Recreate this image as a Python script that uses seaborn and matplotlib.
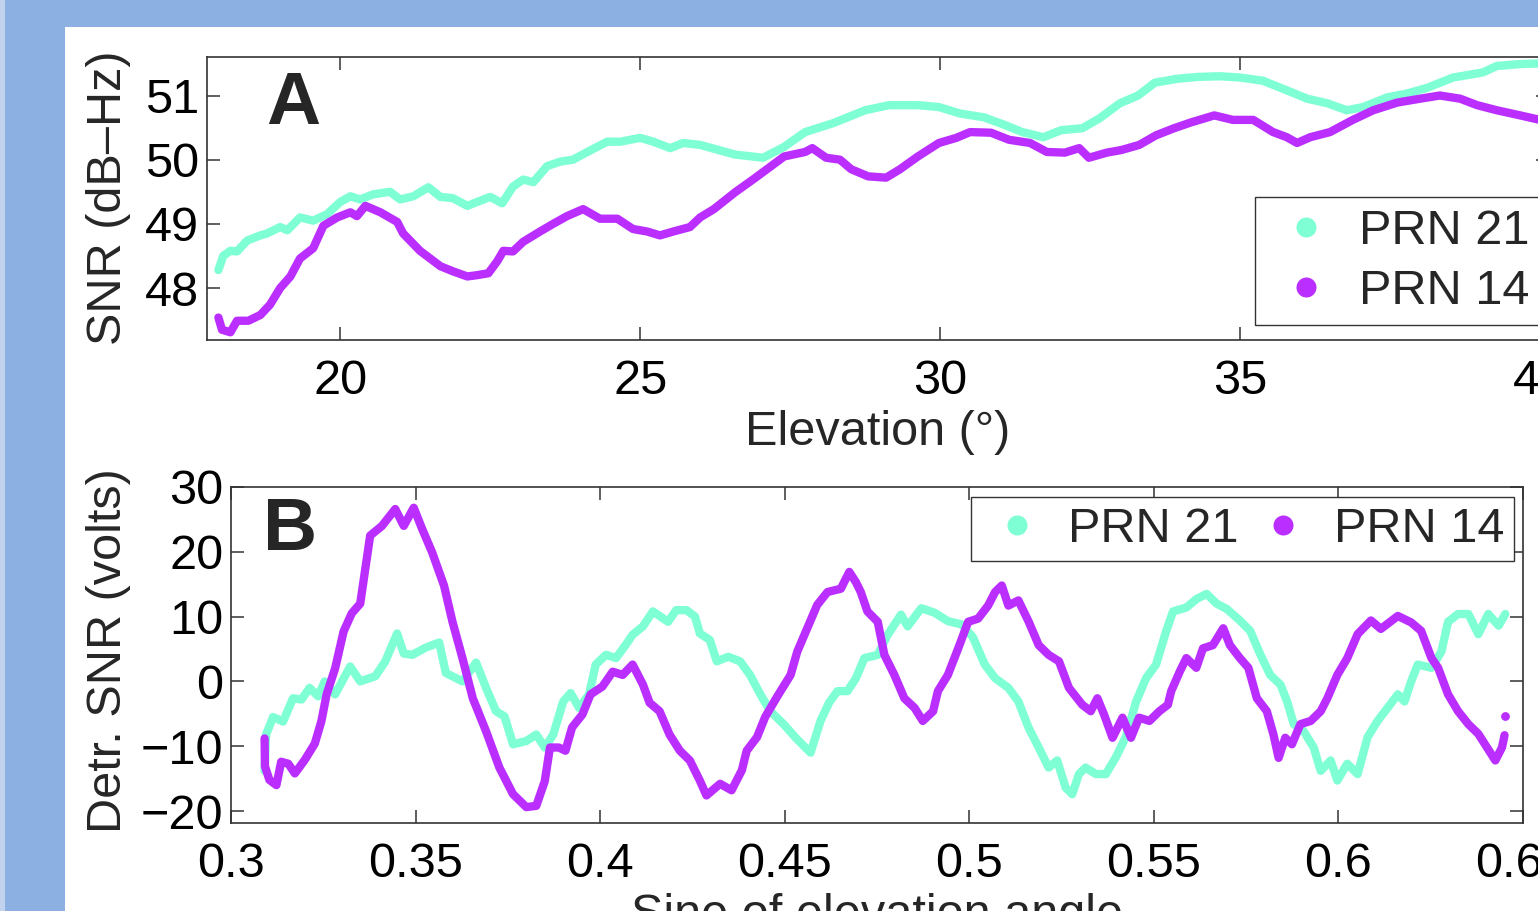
import matplotlib
matplotlib.use("Agg")
import matplotlib.pyplot as plt
from matplotlib.lines import Line2D
from matplotlib.patches import Rectangle
import seaborn as sns


# ==========================================
# DATA
# ==========================================

# Panel A: SNR vs elevation angle
elev_21 = [17.97, 18.05, 18.17, 18.28, 18.45, 18.67, 18.78, 19.0, 19.12, 19.33,
           19.55, 19.78, 20.0, 20.17, 20.33, 20.55, 20.83, 21.0, 21.22, 21.47,
           21.67, 21.88, 22.12, 22.28, 22.5, 22.7, 22.88, 23.05, 23.22, 23.45,
           23.67, 23.88, 24.12, 24.45, 24.67, 25.0, 25.22, 25.5, 25.72, 26.0,
           26.58, 27.05, 27.4, 27.75, 28.22, 28.75, 29.15, 29.63, 29.98, 30.33,
           30.73, 31.08, 31.37, 31.72, 32.02, 32.37, 32.65, 33.0, 33.3, 33.58,
           33.95, 34.3, 34.67, 35.0, 35.38, 35.78, 36.12, 36.45, 36.78, 37.05,
           37.45, 37.78, 38.12, 38.55, 39.05, 39.28, 39.67, 40.0, 40.3, 40.6]
snr_21 = [48.28, 48.5, 48.58, 48.57, 48.74, 48.82, 48.85, 48.95, 48.9, 49.1,
          49.05, 49.15, 49.34, 49.43, 49.38, 49.46, 49.5, 49.38, 49.43, 49.57,
          49.42, 49.4, 49.28, 49.34, 49.42, 49.32, 49.58, 49.69, 49.65, 49.9,
          49.97, 50.0, 50.12, 50.28, 50.28, 50.34, 50.28, 50.18, 50.26, 50.23,
          50.08, 50.03, 50.2, 50.43, 50.57, 50.77, 50.85, 50.85, 50.82, 50.72,
          50.66, 50.54, 50.43, 50.35, 50.46, 50.49, 50.64, 50.88, 51.0, 51.2,
          51.26, 51.29, 51.3, 51.28, 51.23, 51.08, 50.95, 50.88, 50.77, 50.82,
          50.97, 51.03, 51.12, 51.28, 51.36, 51.46, 51.49, 51.5, 51.53, 51.52]

elev_14 = [17.97, 18.03, 18.17, 18.28, 18.47, 18.67, 18.83, 19.0, 19.17, 19.33,
           19.55, 19.72, 19.95, 20.17, 20.28, 20.42, 20.67, 20.95, 21.05, 21.33,
           21.67, 21.88, 22.12, 22.28, 22.47, 22.62, 22.72, 22.88, 23.05, 23.33,
           23.55, 23.78, 24.05, 24.33, 24.62, 24.88, 25.12, 25.33, 25.55, 25.83,
           26.0, 26.23, 26.58, 26.88, 27.17, 27.4, 27.75, 27.87, 28.1, 28.33,
           28.52, 28.8, 29.1, 29.33, 29.63, 29.98, 30.27, 30.5, 30.85, 31.15,
           31.5, 31.78, 32.08, 32.32, 32.48, 32.78, 33.02, 33.32, 33.6, 33.9,
           34.18, 34.57, 34.88, 35.22, 35.55, 35.78, 35.95, 36.17, 36.5, 36.88,
           37.22, 37.62, 38.0, 38.33, 38.67, 38.95, 39.28, 39.67, 40.0, 40.17,
           40.3]
snr_14 = [47.54, 47.35, 47.31, 47.49, 47.49, 47.58, 47.74, 48.0, 48.18, 48.46,
          48.62, 48.97, 49.1, 49.18, 49.12, 49.28, 49.18, 49.03, 48.85, 48.58,
          48.34, 48.26, 48.18, 48.2, 48.23, 48.42, 48.58, 48.57, 48.72, 48.88,
          49.0, 49.12, 49.23, 49.08, 49.08, 48.92, 48.88, 48.82, 48.88, 48.95,
          49.1, 49.23, 49.49, 49.69, 49.89, 50.05, 50.12, 50.18, 50.03, 50.0,
          49.85, 49.74, 49.72, 49.85, 50.05, 50.26, 50.34, 50.43, 50.42, 50.31,
          50.26, 50.12, 50.11, 50.18, 50.03, 50.11, 50.15, 50.23, 50.38, 50.49,
          50.58, 50.69, 50.62, 50.62, 50.43, 50.35, 50.26, 50.35, 50.43, 50.62,
          50.77, 50.89, 50.95, 51.0, 50.95, 50.85, 50.77, 50.69, 50.62, 50.54,
          50.6]

# Panel B: detrended SNR vs sine of elevation
sin_21 = [0.3091, 0.3095, 0.3114, 0.3141, 0.3168, 0.3191, 0.3213, 0.3236, 0.3254, 0.3282,
          0.3323, 0.3350, 0.3391, 0.3418, 0.3450, 0.3468, 0.3491, 0.3527, 0.3564, 0.3582,
          0.3627, 0.3664, 0.3691, 0.3718, 0.3741, 0.3764, 0.3800, 0.3827, 0.3850, 0.3873,
          0.3900, 0.3920, 0.3943, 0.3970, 0.3988, 0.4016, 0.4043, 0.4070, 0.4088, 0.4116,
          0.4143, 0.4184, 0.4206, 0.4234, 0.4257, 0.4270, 0.4297, 0.4316, 0.4347, 0.4379,
          0.4406, 0.4434, 0.4461, 0.4497, 0.4533, 0.4570, 0.4597, 0.4620, 0.4643, 0.4670,
          0.4693, 0.4716, 0.4752, 0.4779, 0.4815, 0.4833, 0.4870, 0.4906, 0.4942, 0.4979,
          0.5010, 0.5042, 0.5070, 0.5106, 0.5133, 0.5161, 0.5188, 0.5215, 0.5238, 0.5261,
          0.5279, 0.5297, 0.5315, 0.5343, 0.5370, 0.5397, 0.5424, 0.5452, 0.5479, 0.5506,
          0.5533, 0.5552, 0.5588, 0.5615, 0.5643, 0.5670, 0.5697, 0.5733, 0.5761, 0.5788,
          0.5815, 0.5843, 0.5861, 0.5879, 0.5906, 0.5933, 0.5952, 0.5979, 0.5997, 0.6024,
          0.6052, 0.6079, 0.6106, 0.6133, 0.6161, 0.6179, 0.6197, 0.6215, 0.6252, 0.6279,
          0.6297, 0.6324, 0.6352, 0.6379, 0.6406, 0.6434, 0.6452]
det_21 = [-13.8, -8.2, -5.5, -6.2, -2.6, -2.8, -1.0, -2.3, 0.0, -2.0,
          2.3, 0.0, 0.8, 3.1, 7.4, 4.3, 4.1, 5.2, 6.0, 1.3,
          0.0, 2.9, -1.0, -4.6, -5.4, -9.7, -9.2, -8.2, -10.2, -8.2,
          -3.1, -1.8, -4.1, -2.0, 2.6, 4.1, 3.6, 5.7, 7.2, 8.5,
          10.8, 9.2, 11.0, 11.0, 10.0, 7.4, 6.4, 3.1, 3.8, 3.1,
          1.0, -2.0, -4.6, -6.6, -8.9, -11.0, -6.1, -3.3, -1.5, -1.5,
          0.5, 3.6, 4.1, 7.2, 10.3, 8.5, 11.3, 10.6, 9.3, 8.8,
          6.8, 2.6, 0.5, -1.0, -3.1, -7.2, -10.2, -13.3, -12.2, -16.4,
          -17.4, -14.3, -13.3, -14.3, -14.3, -11.7, -8.6, -3.1, 0.5, 2.6,
          7.7, 10.8, 11.4, 12.7, 13.5, 12.0, 11.2, 9.4, 7.8, 4.2,
          1.0, -0.5, -3.1, -6.6, -7.7, -10.2, -13.8, -12.2, -15.3, -12.7,
          -14.3, -8.6, -6.1, -4.1, -2.0, -3.1, 0.0, 2.6, 2.1, 4.6,
          9.2, 10.4, 10.4, 7.3, 10.4, 8.6, 10.4]

sin_14 = [0.3091, 0.3092, 0.3104, 0.3123, 0.3136, 0.3155, 0.3173, 0.3200, 0.3227, 0.3245,
          0.3259, 0.3282, 0.3305, 0.3327, 0.3350, 0.3364, 0.3377, 0.3409, 0.3445, 0.3468,
          0.3495, 0.3518, 0.3545, 0.3577, 0.3600, 0.3627, 0.3655, 0.3691, 0.3727, 0.3764,
          0.3800, 0.3827, 0.3850, 0.3864,
          0.3888, 0.3906, 0.3924, 0.3952, 0.3974, 0.4006, 0.4034, 0.4061, 0.4088, 0.4116,
          0.4134, 0.4161, 0.4188, 0.4216, 0.4243, 0.4270, 0.4288, 0.4325, 0.4356, 0.4384,
          0.4397, 0.4425, 0.4447, 0.4479, 0.4516, 0.4534, 0.4561, 0.4588, 0.4616, 0.4652,
          0.4675, 0.4693,
          0.4706, 0.4724, 0.4752, 0.4770, 0.4797, 0.4824, 0.4852, 0.4874, 0.4902, 0.4915,
          0.4942, 0.4970, 0.4997, 0.5024, 0.5051, 0.5070, 0.5088, 0.5106, 0.5133, 0.5161,
          0.5188, 0.5215, 0.5243, 0.5270, 0.5306, 0.5329, 0.5347, 0.5365, 0.5388, 0.5415,
          0.5438, 0.5460, 0.5488, 0.5515, 0.5538, 0.5547, 0.5570,
          0.5588, 0.5615, 0.5633, 0.5660, 0.5688, 0.5706, 0.5733, 0.5756, 0.5779, 0.5806,
          0.5824, 0.5838, 0.5856, 0.5874, 0.5897, 0.5925, 0.5952, 0.5970, 0.5997, 0.6024,
          0.6052, 0.6088, 0.6115, 0.6161, 0.6197, 0.6224, 0.6252, 0.6270, 0.6297, 0.6324,
          0.6352, 0.6379, 0.6397, 0.6425, 0.6443, 0.6450]
det_14 = [-8.8, -13.1, -15.2, -16.0, -12.4, -12.7, -14.2, -12.1, -9.6, -6.1,
          -2.0, 2.0, 7.7, 10.5, 12.0, 17.4, 22.5, 24.0, 26.6, 24.0,
          26.8, 23.5, 19.9, 14.8, 9.2, 3.6, -2.6, -7.7, -13.3, -17.4,
          -19.4, -19.2, -15.4, -10.2,
          -10.2, -10.7, -7.1, -5.1, -2.0, -0.8, 1.5, 1.0, 2.6, -0.5,
          -3.3, -4.6, -8.2, -10.7, -12.2, -15.3, -17.6, -15.8, -16.8, -13.7,
          -10.7, -8.6, -5.5, -2.4, 1.0, 4.6, 8.2, 11.8, 13.8, 14.3,
          16.9, 15.3,
          13.8, 10.8, 9.2, 4.1, 1.0, -2.6, -4.1, -6.1, -4.6, -1.5,
          1.0, 5.1, 9.2, 9.7, 11.7, 13.8, 14.8, 11.7, 12.5, 9.2,
          5.6, 4.1, 3.1, -1.0, -3.6, -4.6, -2.6, -5.1, -8.7, -5.6,
          -8.7, -5.6, -6.1, -4.6, -3.6, -1.5, 1.5,
          3.6, 2.1, 5.1, 5.6, 8.2, 5.6, 3.6, 2.1, -2.6, -4.6,
          -8.2, -11.8, -8.7, -9.7, -6.6, -6.1, -4.6, -2.6, 1.0, 3.6,
          7.3, 9.4, 8.1, 10.1, 9.1, 7.8, 3.6, 2.1, -2.0, -4.6,
          -6.6, -8.1, -9.7, -12.2, -10.2, -8.3]

# lone sample after the end of the PRN 14 trace
sin_14_tail = [0.6450]
det_14_tail = [-5.3]

series_labels = ["PRN 21", "PRN 14"]
a_xticks = [20, 25, 30, 35, 40]
a_yticks = [48, 49, 50, 51]
b_xticks = [0.3, 0.35, 0.4, 0.45, 0.5, 0.55, 0.6, 0.65]
b_xticklabels = ["0.3", "0.35", "0.4", "0.45", "0.5", "0.55", "0.6", "0.65"]
b_yticks = [-20, -10, 0, 10, 20, 30]


# ==========================================
# STYLE
# ==========================================

sns.set_style("ticks")
plt.rcParams["font.family"] = ["Liberation Sans", "DejaVu Sans"]

W, H = 1538, 911
c21 = "#7FFFD4"
c14 = "#BA2EFF"
edge = "#333333"
fs = 35


def fx(px):
    return px / W


def fy(py):
    return 1 - py / H


fig = plt.figure(figsize=(W / 100, H / 100), dpi=100)
fig.patch.set_facecolor("#8DB0E2")
fig.add_artist(Rectangle((0, 0), fx(5), 1, transform=fig.transFigure,
                         facecolor="#C3D3EF", edgecolor="none", zorder=0))
fig.add_artist(Rectangle((fx(65), 0), 1, fy(27), transform=fig.transFigure,
                         facecolor="white", edgecolor="none", zorder=0))


def style_axes(ax):
    for sp in ax.spines.values():
        sp.set_visible(True)
        sp.set_color(edge)
        sp.set_linewidth(1.2)
    ax.tick_params(direction="in", length=9.4, width=1.1, color=edge,
                   top=True, right=True, labelsize=fs, labelcolor="black")
    ax.tick_params(axis="x", pad=13.5)
    ax.tick_params(axis="y", pad=5.5)
    ax.set_facecolor("white")


def dot_handles():
    return [Line2D([], [], linestyle="none", marker="o", markersize=14.4,
                   markerfacecolor=c, markeredgecolor="none")
            for c in (c21, c14)]


line_kw = dict(linewidth=6, estimator=None, sort=False, legend=False,
               solid_capstyle="round", solid_joinstyle="round")


# ==========================================
# PANEL A
# ==========================================

ax_a = fig.add_axes([fx(207), fy(340), fx(1549 - 207), (340 - 57) / H])
sns.lineplot(x=elev_21, y=snr_21, ax=ax_a, color=c21, **line_kw)
sns.lineplot(x=elev_14, y=snr_14, ax=ax_a, color=c14, **line_kw)

ax_a.set_xlim(17.78, 40.15)
ax_a.set_ylim(47.19, 51.6)
ax_a.set_xticks(a_xticks)
ax_a.set_yticks(a_yticks)
style_axes(ax_a)

ax_a.set_xlabel("Elevation (°)", fontsize=fs, va="baseline")
ax_a.xaxis.set_label_coords(fx(878), fy(445), transform=fig.transFigure)
ax_a.set_ylabel("SNR (dB–Hz)", fontsize=fs, va="baseline")
ax_a.yaxis.set_label_coords(fx(121), fy(198), transform=fig.transFigure)

ax_a.legend(dot_handles(), series_labels, loc="upper left",
            bbox_to_anchor=(fx(1255), fy(197)), bbox_transform=fig.transFigure,
            fontsize=fs, frameon=True, fancybox=False, framealpha=1,
            edgecolor=edge, borderpad=0.24, handlelength=1.6,
            handletextpad=0.3, labelspacing=0.31, borderaxespad=0)

fig.text(fx(293), fy(105), "A", fontsize=54, fontweight="bold",
         ha="center", va="center")


# ==========================================
# PANEL B
# ==========================================

ax_b = fig.add_axes([fx(231), fy(823), fx(1523 - 231), (823 - 487) / H])
sns.lineplot(x=sin_21, y=det_21, ax=ax_b, color=c21, **line_kw)
sns.lineplot(x=sin_14, y=det_14, ax=ax_b, color=c14, **line_kw)
sns.scatterplot(x=sin_14_tail, y=det_14_tail, ax=ax_b, color=c14,
                s=40, linewidth=0, legend=False)

ax_b.set_xlim(0.3, 0.65)
ax_b.set_ylim(-21.85, 30)
ax_b.set_xticks(b_xticks)
ax_b.set_xticklabels(b_xticklabels)
ax_b.set_yticks(b_yticks)
style_axes(ax_b)

ax_b.set_xlabel("Sine of elevation angle", fontsize=fs, va="baseline")
ax_b.xaxis.set_label_coords(fx(877), fy(928), transform=fig.transFigure)
ax_b.set_ylabel("Detr. SNR (volts)", fontsize=fs, va="baseline")
ax_b.yaxis.set_label_coords(fx(121), fy(651), transform=fig.transFigure)

ax_b.legend(dot_handles(), series_labels, loc="upper left", ncol=2,
            bbox_to_anchor=(fx(971), fy(497)), bbox_transform=fig.transFigure,
            fontsize=fs, frameon=True, fancybox=False, framealpha=1,
            edgecolor=edge, borderpad=0.2, handlelength=1.5,
            handletextpad=0.3, columnspacing=0.16, borderaxespad=0)

fig.text(fx(290), fy(530), "B", fontsize=54, fontweight="bold",
         ha="center", va="center")


fig.savefig("out.png", dpi=100, facecolor=fig.get_facecolor())
plt.close(fig)
